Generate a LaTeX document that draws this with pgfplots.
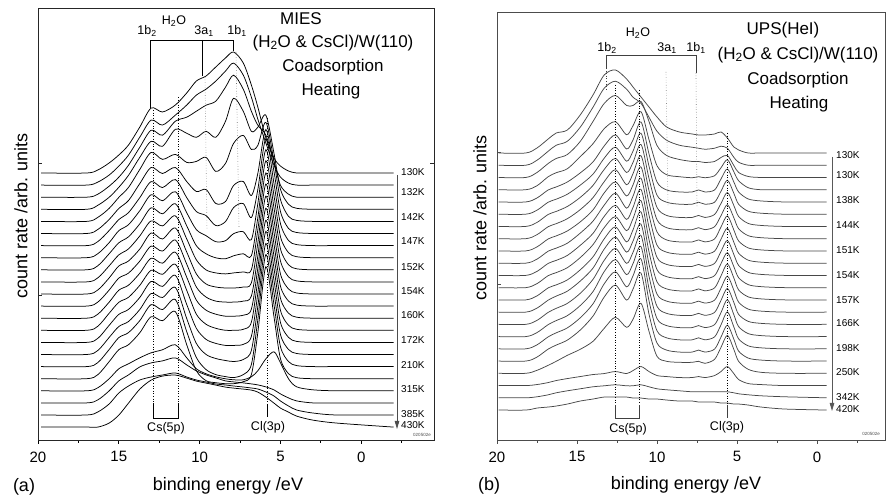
\documentclass[border=0pt]{standalone}
\usepackage{fontspec}
\setmainfont{Liberation Sans}
\usepackage{pgfplots}
\usepackage{pgfplotstable}
\pgfplotsset{compat=1.18}
\usetikzlibrary{arrows.meta}

% MIES spectra: one row per curve (height above its own baseline), x row first
\pgfplotstableread{
name c01 c02 c03 c04 c05 c06 c07 c08 c09 c10 c11 c12 c13 c14 c15 c16 c17 c18 c19 c20 c21 c22 c23 c24 c25 c26 c27
x   19.8 17 16.3 15.6 15.0 14.4 13.7 13.0 12.3 11.5 10.8 10.2 9.6 9.0 8.4 7.9 7.3 6.8 6.4 5.9 5.4 5.0 4.5 4.0 3.0 1.5 -2.0
k0  0 0 3 10 18 28 46 65 61 68 80 92 97 106 115 121 110 88 66 35 15 7 2 0 0 0 0
k1  0 0 3 10 19 30 48 65 60 70 80 90 96 104 114 122 110 88 66 42 20 8 2 0 0 0 0
k2  0 0 3 11 20 32 50 67 62 76 80 86 92 96 110 122 108 86 72 62 36 12 3 0 0 0 0
k3  0 0 4 12 22 34 52 68 63 80 76 72 78 72 88 111 98 78 82 94 56 20 5 1 0 0 0
k4  0 0 4 13 24 34 52 69 62 67 59 60 64 50 58 78 86 72 76 99 60 22 5 1 0 0 0
k5  0 0 4 14 25 33 50 66 60 66 52 42 44 30 32 48 52 38 60 104 62 22 5 1 0 0 0
k6  0 0 4 15 26 33 48 64 58 66 48 34 30 20 24 38 42 28 56 107 62 22 5 1 0 0 0
k7  0 0 4 15 27 33 47 63 57 66 45 28 22 16 17 24 26 18 54 108 62 21 5 1 0 0 0
k8  0 0 4 16 27 33 46 62 56 66 44 24 16 12 11 14 16 14 52 109 62 21 5 1 0 0 0
k9  0 0 4 16 27 33 46 61 56 66 43 22 12 9 8 9 10 12 52 109 62 21 5 1 0 0 0
k10 0 0 4 16 28 33 45 61 55 66 42 20 10 7 6 6 7 11 51 110 62 20 5 1 0 0 0
k11 0 0 4 16 28 33 45 60 55 66 42 19 9 5 4 4 5 10 50 110 62 20 5 1 0 0 0
k12 0 0 4 16 28 33 45 60 55 66 41 18 8 4 2 2 3 9 50 110 62 20 5 1 0 0 0
k13 0 0 4 17 28 33 45 60 56 66 40 16 6 2 0 0 1 8 50 110 62 20 5 1 0 0 0
k14 0 0 4 17 28 33 45 61 56 67 38 14 3 -1 -3 -3 -2 6 49 111 62 20 5 1 0 0 0
k15 0 0 4 17 28 33 45 61 57 67 36 11 0 -4 -6 -7 -5 4 48 111 62 20 5 1 0 0 0
k16 0 0 4 17 29 34 46 62 57 67 35 9 -3 -8 -10 -11 -8 2 47 112 62 20 5 1 0 0 0
k17 0 0 4 17 29 34 46 62 58 67 34 8 -2 -4 -5 -5 -3 4 46 112 62 20 5 1 0 0 0
k18 0 0 3 12 22 27 33 38 41 46 33 22 17 14 12 11 11 14 20 32 39 28 12 4 1 0 0
k19 0 0 3 12 22 28 36 40 42 45 38 32 28 25 22 21 20 19 18 16 13 9 5 2 0 0 0
k20 0 0 3 11 22 29 35 38 40 42 38 35 33 31 30 29 28 27 26 23 19 14 9 5 2 0 0
k21 0 0 0 4 12 24 38 47 51 52 49 46 44 42 40 39 38 37 35 30 24 19 15 11 7 4 0
}\miesraw
\pgfplotstabletranspose[colnames from=name]{\miesT}{\miesraw}

% UPS(HeI) spectra
\pgfplotstableread{
name c01 c02 c03 c04 c05 c06 c07 c08 c09 c10 c11 c12 c13 c14 c15 c16 c17 c18 c19 c20 c21 c22 c23 c24 c25 c26 c27 c28 c29
x   19.9 18.2 17.5 16.8 16.3 15.6 14.8 14.0 13.3 12.6 11.9 11.5 11.0 10.5 10.0 9.4 8.6 7.8 7.4 7.0 6.4 6.0 5.6 5.2 4.9 4.3 3.5 2.0 -0.6
k0  0 0 5 14 20 23 38 58 78 83 74 66 56 46 36 26 21 19 18 18 19 21 15 6 3 0 0 0 0
k1  0 0 5 14 20 24 38 58 77 84 76 68 62 48 34 25 20 18 17 16 17 19 17 8 3 0 0 0 0
k2  0 0 5 14 19 23 36 56 74 82 72 72 76 56 32 22 18 16 16 15 16 20 22 12 5 1 0 0 0
k3  0 0 4 13 17 21 33 46 61 68 55 64 78 50 24 15 13 12 13 12 14 22 30 18 9 2 0 0 0
k4  0 0 4 12 15 20 29 40 56 67 53 62 80 48 20 12 10 10 12 10 12 23 33 20 10 3 1 0 0
k5  0 0 4 12 15 20 29 40 56 67 53 63 81 48 19 12 10 10 12 10 12 23 34 21 10 3 1 0 0
k6  0 0 4 12 15 20 29 41 57 68 54 64 82 48 19 11 9 9 11 9 12 23 34 21 10 3 1 0 0
k7  0 0 4 12 15 20 29 41 57 69 54 65 83 48 19 11 9 9 11 9 12 23 34 21 10 3 1 0 0
k8  0 0 4 12 15 20 29 41 58 69 55 66 84 48 19 11 9 9 11 9 12 24 35 21 10 3 1 0 0
k9  0 0 4 12 15 20 30 42 58 70 55 67 85 48 18 11 9 9 11 9 12 24 35 21 10 3 1 0 0
k10 0 0 4 12 15 20 30 42 59 70 56 68 86 48 18 11 9 9 11 9 12 24 35 21 10 3 1 0 0
k11 0 0 4 12 15 20 30 43 60 71 57 69 87 48 18 11 9 9 11 9 12 24 35 21 10 3 1 0 0
k12 0 0 4 12 15 20 30 43 61 73 58 70 88 48 18 11 9 9 11 9 12 24 36 22 10 3 1 0 0
k13 0 0 4 12 16 21 31 44 63 75 60 71 88 48 18 11 9 9 11 9 12 24 36 22 10 3 1 0 0
k14 0 0 4 12 16 21 31 45 64 76 61 72 89 48 18 11 9 9 11 9 12 24 36 22 10 3 1 0 0
k15 0 0 4 12 16 21 31 45 65 77 62 73 90 48 18 11 9 9 11 9 12 24 37 22 10 3 1 0 0
k16 0 0 4 12 16 21 31 45 65 77 62 73 90 48 18 11 9 9 11 9 12 24 37 22 10 3 1 0 0
k17 0 0 4 12 16 21 31 45 64 76 61 72 88 47 18 11 9 9 11 9 12 24 36 22 10 3 1 0 0
k18 0 0 3 8 12 18 24 32 45 56 46 54 70 42 17 12 11 11 12 10 14 26 38 24 12 4 1 0 0
k19 0 0 1 3 5 7 9 11 12 14 12 15 19 14 10 9 8 8 9 8 10 14 19 12 6 2 1 0 0
k20 0 0 1 3 5 7 9 11 12 13 12 12 13 11 9 8 7 6 6 6 6 6 6 5 4 3 2 1 0
k21 0 0 2 3 4 6 9 11 13 13 13 12 12 11 11 10 9 9 8 8 8 7 7 6 6 5 3 1 0
}\upsraw
\pgfplotstabletranspose[colnames from=name]{\upsT}{\upsraw}

\pgfplotsset{
  panel/.style={
    scale only axis, x dir=reverse, xmax=20, ymin=60,
    axis line style={line width=0.8pt},
    xtick={0,5,10,15,20}, minor xtick={-2.5,2.5,7.5,12.5,17.5},
    xtick pos=bottom, tick align=outside,
    major tick length=4pt, minor tick length=3pt,
    every tick/.style={line width=0.8pt},
    ytick=\empty,
    tick label style={font=\fontsize{15}{18}\selectfont},
    xticklabel style={yshift=-4pt},
    /pgf/number format/assume math mode=true,
  },
  curve/.style={smooth, no markers, line width=0.75pt},
}
\newcommand{\tfont}{\fontsize{17}{20}\selectfont}
\newcommand{\lfont}{\fontsize{12.5}{15}\selectfont}
\newcommand{\kfont}{\fontsize{10}{11}\selectfont}

\begin{document}
\begin{tikzpicture}[x=1pt,y=1pt]
\path[use as bounding box] (0,0) rectangle (886,500);

% ---------- panel (a) MIES ----------
\begin{axis}[panel, at={(38pt,60pt)}, anchor=south west,
  width=396pt, height=432pt, xmin=-4.5, ymax=492,
  axis line style={black!85}]
\pgfplotsinvokeforeach{0,...,21}{
  \addplot[curve, black] table[x=x, y expr={\thisrow{k#1}+327-12.1*#1}] {\miesT};
}
\end{axis}

% ---------- panel (b) UPS ----------
\begin{axis}[panel, at={(497pt,60pt)}, anchor=south west,
  width=388pt, height=428pt, xmin=-4.25, ymax=488,
  axis line style={black!70}, every tick/.append style={black!70}]
\pgfplotsinvokeforeach{0,...,21}{
  \addplot[curve, black!72] table[x=x, y expr={\thisrow{k#1}+347-12.24*#1}] {\upsT};
}
\end{axis}

% small y ticks
\draw[black!85, line width=0.8pt] (38,337)--(42,337) (38,205)--(42,205) (434,337)--(430,337);
\draw[black!70, line width=0.8pt] (497,348)--(501,348) (497,216)--(501,216);

% ---------- annotations (a) ----------
\draw[line width=0.6pt] (150,392)--(150,460)--(233,460)--(233,449);
\draw[line width=0.6pt] (202.5,460)--(202.5,424);
\draw[line width=0.6pt, dotted] (153,390)--(153,97);
\draw[line width=0.6pt, dotted] (178,403)--(178,97);
\draw[line width=0.6pt, dotted, black!45] (205,423)--(207,270);
\draw[line width=0.6pt, dotted, black!55] (236,448)--(239,272);
\draw[line width=0.6pt, dotted] (267.5,382)--(267.5,97);
\draw[line width=0.6pt] (153,97)--(153,82)--(178,82)--(178,97);
\draw[line width=0.6pt] (267.5,96)--(267.5,83);
\node[font=\lfont] at (147,469) {1b\textsubscript{2}};
\node[font=\lfont] at (174,479) {H\textsubscript{2}O};
\node[font=\lfont] at (204,469) {3a\textsubscript{1}};
\node[font=\lfont] at (237,469) {1b\textsubscript{1}};
\node[font=\lfont] at (166,72) {Cs(5p)};
\node[font=\lfont] at (268,73) {Cl(3p)};
\node[font=\tfont] at (301,481) {MIES};
\node[font=\tfont] at (333,457) {(H\textsubscript{2}O \& CsCl)/W(110)};
\node[font=\tfont] at (333,433) {Coadsorption};
\node[font=\tfont] at (331,409) {Heating};
\draw[black!70, line width=0.8pt, -{Triangle[length=8pt,width=4.5pt]}] (397,325)--(397,71);
\foreach \t/\yy in {130K/328,132K/308,142K/283,147K/259,152K/233,154K/209,160K/185,172K/160,210K/135,315K/111,385K/86,430K/75}
  \node[font=\kfont, anchor=west, inner sep=0pt] at (401,\yy) {\t};
\node[font=\fontsize{4.5}{5}\selectfont, black!70] at (422,65) {020502e};

% ---------- annotations (b) ----------
\draw[line width=0.6pt, black!75] (606,432)--(606,445)--(696,445)--(696,427);
\draw[line width=0.6pt, dotted, black!75] (606,432)--(606,410);
\draw[line width=0.6pt, dotted] (615,415)--(615,96);
\draw[line width=0.6pt, dotted] (639,410)--(639,96);
\draw[line width=0.6pt, dotted, black!45] (666,428)--(668,293);
\draw[line width=0.6pt, dotted, black!55] (696,427)--(697,293);
\draw[line width=0.6pt, dotted] (727,367)--(727,96);
\draw[line width=0.6pt, black!75] (615,95)--(615,82)--(639,82)--(639,95);
\draw[line width=0.6pt, black!75] (727,95)--(727,82);
\node[font=\lfont] at (607,452) {1b\textsubscript{2}};
\node[font=\lfont] at (638,467) {H\textsubscript{2}O};
\node[font=\lfont] at (667,452) {3a\textsubscript{1}};
\node[font=\lfont] at (696,452) {1b\textsubscript{1}};
\node[font=\lfont] at (628,71) {Cs(5p)};
\node[font=\lfont] at (727,73) {Cl(3p)};
\node[font=\tfont] at (783,470) {UPS(HeI)};
\node[font=\tfont] at (798,445) {(H\textsubscript{2}O \& CsCl)/W(110)};
\node[font=\tfont] at (798,420) {Coadsorption};
\node[font=\tfont] at (799,396) {Heating};
\draw[black!65, line width=0.8pt, -{Triangle[length=8pt,width=4.5pt]}] (832,343)--(832,89);
\foreach \t/\yy in {130K/345,130K/325,138K/300,144K/275,151K/250,154K/225,157K/200,166K/177,198K/152,250K/128,342K/103,420K/91}
  \node[font=\kfont, anchor=west, inner sep=0pt] at (836,\yy) {\t};
\node[font=\fontsize{4.5}{5}\selectfont, black!70] at (871,66) {020502e};

% ---------- axis titles ----------
\node[font=\fontsize{18}{20}\selectfont, rotate=90] at (21,284) {count rate /arb. units};
\node[font=\fontsize{18}{20}\selectfont] at (228,14) {binding energy /eV};
\node[font=\fontsize{18}{20}\selectfont] at (24,13) {(a)};
\node[font=\fontsize{18}{20}\selectfont, rotate=90] at (480,282) {count rate /arb. units};
\node[font=\fontsize{18}{20}\selectfont] at (686,15) {binding energy /eV};
\node[font=\fontsize{18}{20}\selectfont] at (489,14) {(b)};
\end{tikzpicture}
\end{document}
